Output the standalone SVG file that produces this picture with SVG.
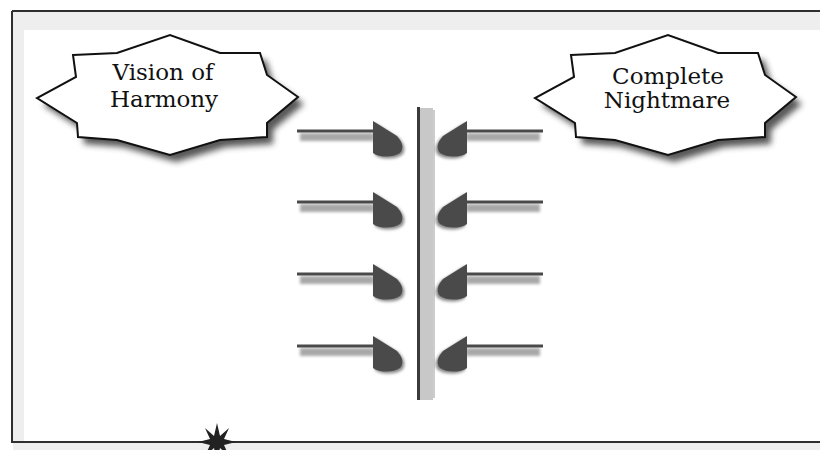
<svg xmlns="http://www.w3.org/2000/svg" width="820" height="450" viewBox="0 0 820 450">
  <defs>
    <filter id="blur" x="-20%" y="-20%" width="140%" height="140%">
      <feGaussianBlur stdDeviation="3"/>
    </filter>
    <filter id="blur2" x="-20%" y="-50%" width="140%" height="200%">
      <feGaussianBlur stdDeviation="1.6"/>
    </filter>
    <polygon id="starShape" points="73,55 117,53 170,35 220,53 260,53 267,75 298,97 267,123 267,137 220,140 170,155 117,140 78,137 77,123 37,98 76,77"/>
    <g id="arrowR">
      <rect x="300" y="133" width="74" height="8" fill="#a8a8a8" filter="url(#blur2)"/>
      <path d="M375,123 L399,138 Q408,148 402,155 Q394,160 382,158 Q377,157 375,155 Z" fill="#888" filter="url(#blur2)"/>
      <line x1="297" y1="131" x2="374" y2="131" stroke="#4a4a4a" stroke-width="3"/>
      <path d="M373,121 L397,136 Q406,146 400,153 Q392,158 380,156 Q375,155 373,153 Z" fill="#4a4a4a"/>
    </g>
  </defs>
  <style>
    .frame { stroke: #2e2e2e; stroke-width: 2; fill: none; }
    .band { fill: #eeeeee; }
    .star { fill: #ffffff; stroke: #111; stroke-width: 2; stroke-linejoin: miter; }
    .shadow { fill: #3a3a3a; opacity: 0.85; }
    .label { font-family: "DejaVu Serif", "Liberation Serif", serif; font-size: 23px; fill: #111; text-anchor: middle; }
  </style>
  <rect x="0" y="0" width="820" height="450" fill="#ffffff"/>
  <g id="frame">
    <rect class="band" x="13" y="12" width="807" height="18"/>
    <rect class="band" x="13" y="12" width="11" height="430"/>
    <rect class="band" x="13" y="443" width="807" height="7"/>
    <line class="frame" x1="12" y1="11" x2="820" y2="11"/>
    <line class="frame" x1="12" y1="11" x2="12" y2="443"/>
    <line class="frame" x1="12" y1="442" x2="820" y2="442"/>
  </g>
  <g id="vision-of-harmony">
    <use href="#starShape" class="shadow" transform="translate(6,7)" filter="url(#blur)"/>
    <use href="#starShape" class="star"/>
    <text class="label" x="163" y="80">Vision of</text>
    <text class="label" x="164" y="107">Harmony</text>
  </g>
  <g id="complete-nightmare">
    <use href="#starShape" class="shadow" transform="translate(504,7)" filter="url(#blur)"/>
    <use href="#starShape" class="star" transform="translate(498,0)"/>
    <text class="label" x="668" y="84">Complete</text>
    <text class="label" x="667" y="108">Nightmare</text>
  </g>
  <g id="divider">
    <rect x="419" y="108" width="14" height="292" fill="#c8c8c8"/>
    <line x1="418.5" y1="107" x2="418.5" y2="400" stroke="#3a3a3a" stroke-width="3"/>
    <line x1="434" y1="110" x2="434" y2="398" stroke="#9a9a9a" stroke-width="1"/>
  </g>
  <g id="connectors">
    <use href="#arrowR"/>
    <use href="#arrowR" transform="translate(0,71)"/>
    <use href="#arrowR" transform="translate(0,143)"/>
    <use href="#arrowR" transform="translate(0,215)"/>
    <g transform="translate(840,0) scale(-1,1)">
      <use href="#arrowR"/>
      <use href="#arrowR" transform="translate(0,71)"/>
      <use href="#arrowR" transform="translate(0,143)"/>
      <use href="#arrowR" transform="translate(0,215)"/>
    </g>
  </g>
  <g id="bottom-star">
    <polygon points="217,423 220,436 229,428 224,439 236,442 224,445 229,456 220,448 217,461 214,448 205,456 210,445 198,442 210,439 205,428 214,436" fill="#222"/>
  </g>
</svg>
